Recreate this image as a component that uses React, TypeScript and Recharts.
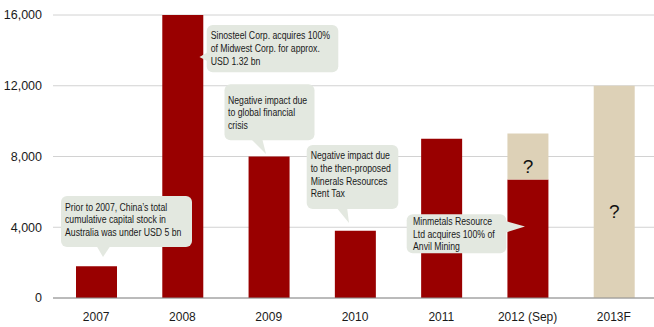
import { Bar, BarChart, CartesianGrid, LabelList, XAxis, YAxis } from "recharts";

const years = ["2007", "2008", "2009", "2010", "2011", "2012 (Sep)", "2013F"];
const invested = [1800, 16000, 8000, 3800, 9000, 6700, null];
const unknown = [null, null, null, null, null, 2600, 12000];
const yTicks = [0, 4000, 8000, 12000, 16000];

const data = years.map((year, i) => ({ year, invested: invested[i], unknown: unknown[i] }));

const RED = "#990000";
const BEIGE = "#ddd1b7";
const BUBBLE = "#e3e8e0";
const FONT = "'Liberation Sans', Arial, sans-serif";

// annotation bubbles, in pixel space of the 654x327 frame
const callouts = [
  {
    box: [61, 196, 131, 51],
    tail: [[96, 245], [111, 245], [103, 257]],
    textX: 65,
    top: 207.3,
    lines: ["Prior to 2007, China\u2019s total", "cumulative capital stock in", "Australia was under USD 5 bn"],
  },
  {
    box: [206.7, 25, 131.6, 47.3],
    tail: [[209, 51.5], [209, 62], [199.5, 57]],
    textX: 210.7,
    top: 36,
    lines: ["Sinosteel Corp. acquires 100%", "of Midwest Corp. for approx.", "USD 1.32 bn"],
  },
  {
    box: [224.5, 84.3, 90, 56],
    tail: [[250, 138], [262, 138], [266, 154]],
    textX: 228,
    top: 100.3,
    lines: ["Negative impact due", "to global financial", "crisis"],
  },
  {
    box: [306.7, 145, 91.6, 64],
    tail: [[336, 207], [347, 207], [349, 223]],
    textX: 310.7,
    top: 155.7,
    lines: ["Negative impact due", "to the then-proposed", "Minerals Resources", "Rent Tax"],
  },
  {
    box: [406.7, 214.3, 99.6, 39],
    tail: [[504, 220.5], [504, 233], [525, 226.5]],
    textX: 413,
    top: 221.5,
    lines: ["Minmetals Resource", "Ltd acquires 100% of", "Anvil Mining"],
  },
];

function QuestionMark(props: any) {
  const { x, y, width, height } = props;
  if (!height || height <= 0) return null;
  return (
    <text
      x={x + width / 2}
      y={y + height / 2 + height * 0.06 + 7}
      textAnchor="middle"
      dominantBaseline="central"
      fontSize={19}
      fontFamily={FONT}
      fill="#111"
    >
      ?
    </text>
  );
}

function Callouts() {
  return (
    <svg
      width={654}
      height={327}
      style={{ position: "absolute", left: 0, top: 0, pointerEvents: "none" }}
    >
      {callouts.map((c, i) => {
        const [bx, by, bw, bh] = c.box;
        return (
          <g key={i}>
            <rect x={bx} y={by} width={bw} height={bh} rx={6} ry={6} fill={BUBBLE} />
            <polygon points={c.tail.map((p) => p.join(",")).join(" ")} fill={BUBBLE} />
            {c.lines.map((line, j) => (
              // narrow-looking text: regular sans squeezed horizontally
              <text
                key={j}
                transform={`translate(${c.textX},${c.top + j * 12.8}) scale(0.87,1)`}
                dominantBaseline="central"
                fontSize={10}
                fontFamily={FONT}
                fill="#1a1a1a"
              >
                {line}
              </text>
            ))}
          </g>
        );
      })}
    </svg>
  );
}

export default function App() {
  return (
    <div style={{ position: "relative", width: 654, height: 327, overflow: "hidden" }}>
      <style>{"body{margin:0;overflow:hidden}"}</style>
      <BarChart
        width={657}
        height={327}
        data={data}
        margin={{ top: 15, right: 0, bottom: 0, left: 0 }}
        barSize={41}
      >
        <CartesianGrid vertical={false} stroke="#d2d2d2" />
        <XAxis
          dataKey="year"
          height={29}
          axisLine={{ stroke: "#8c8c8c" }}
          tickLine={false}
          tickMargin={8}
          interval={0}
          tick={{ fontSize: 12, fill: "#1a1a1a", fontFamily: FONT }}
        />
        <YAxis
          width={53}
          domain={[0, 16000]}
          ticks={yTicks}
          axisLine={false}
          tickLine={false}
          tickMargin={5}
          tickFormatter={(v: number) => v.toLocaleString("en-US")}
          tick={{ fontSize: 12.5, fill: "#1a1a1a", fontFamily: FONT }}
        />
        <Bar dataKey="invested" stackId="a" fill={RED} isAnimationActive={false} />
        <Bar dataKey="unknown" stackId="a" fill={BEIGE} isAnimationActive={false}>
          <LabelList dataKey="unknown" content={QuestionMark} />
        </Bar>
      </BarChart>
      <Callouts />
    </div>
  );
}
